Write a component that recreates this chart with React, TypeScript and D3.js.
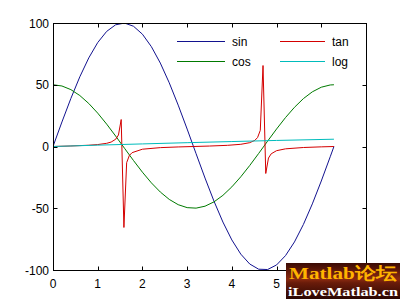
import React from "react";
import * as d3 from "d3";

const xsTrig = [0, 0.2, 0.4, 0.6, 0.8, 1.0, 1.2, 1.4, 1.6, 1.8, 2.0, 2.2, 2.4, 2.6, 2.8, 3.0, 3.2, 3.4, 3.6, 3.8, 4.0, 4.2, 4.4, 4.6, 4.8, 5.0, 5.2, 5.4, 5.6, 5.8, 6.0, 6.2, 6.283];
const sinVals = [0, 19.87, 38.94, 56.46, 71.74, 84.15, 93.2, 98.54, 99.96, 97.38, 90.93, 80.85, 67.55, 51.55, 33.5, 14.11, -5.84, -25.55, -44.25, -61.18, -75.68, -87.16, -95.16, -99.36, -99.62, -95.89, -88.35, -77.28, -63.13, -46.46, -27.94, -8.31, 0];
const cosVals = [50, 49.0, 46.05, 41.27, 34.84, 27.02, 18.12, 8.5, -1.46, -11.36, -20.81, -29.43, -36.87, -42.84, -47.11, -49.5, -49.91, -48.34, -44.84, -39.55, -32.68, -24.51, -15.37, -5.61, 4.38, 14.18, 23.43, 31.73, 38.78, 44.28, 48.01, 49.83, 50];

// tan samples (spikes near pi/2 and 3pi/2)
const xsTan = [0, 0.4, 0.8, 1.0, 1.2, 1.3, 1.403, 1.464, 1.525, 1.586, 1.647, 1.708, 1.769, 2.0, 2.4, 2.8, 3.1416, 3.5, 3.9, 4.2, 4.4, 4.514, 4.575, 4.636, 4.697, 4.758, 4.819, 4.88, 5.0, 5.2, 5.6, 6.0, 6.283];
const tanVals = [0, 0.42, 1.03, 1.56, 2.57, 3.6, 5.9, 9.33, 21.84, -65.57, -13.09, -7.24, -4.98, -2.19, -0.92, -0.36, 0, 0.37, 0.94, 1.78, 3.1, 4.98, 7.24, 13.09, 65.57, -21.84, -9.33, -5.9, -3.38, -1.89, -0.81, -0.29, 0];

// log series
const xsLog = [0, 1, 2, 3, 4, 5, 6.283];
const logVals = [0, 1.1, 2.1, 3.1, 4.0, 4.9, 5.9];

const xTicks = [0, 1, 2, 3, 4, 5, 6, 7];
// labels 6 and 7 are hidden under the watermark in the reference
const xTickLabels = ["0", "1", "2", "3", "4", "5"];
const yTicks = [-100, -50, 0, 50, 100];

const legendLabels = ["sin", "cos", "tan", "log"];
const colors = ["#12128f", "#007a00", "#d40000", "#00bcbc"];

const W = 406;
const H = 305;
const L = 53, R = 366, T = 23, B = 270;

export default function App() {
  const x = d3.scaleLinear().domain([0, 7]).range([L, R]);
  const y = d3.scaleLinear().domain([-100, 100]).range([B, T]);
  const lineGen = d3.line<[number, number]>().x((d) => x(d[0])).y((d) => y(d[1]));
  const zip = (xs: number[], vs: number[]) => xs.map((v, i) => [v, vs[i]] as [number, number]);
  const series = [
    zip(xsTrig, sinVals),
    zip(xsTrig, cosVals),
    zip(xsTan, tanVals),
    zip(xsLog, logVals),
  ];
  const font = "Liberation Sans, Arial, sans-serif";
  const tl = 4;
  const legendPos = [
    { x1: 177, x2: 225, y: 41, tx: 232 },
    { x1: 177, x2: 225, y: 61, tx: 232 },
    { x1: 280, x2: 325, y: 41, tx: 332 },
    { x1: 280, x2: 325, y: 61, tx: 332 },
  ];
  return (
    <div style={{ position: "fixed", left: 0, top: 0 }}>
      <svg width={W} height={H} style={{ display: "block", background: "#fff" }}>
        <defs>
          <clipPath id="plotclip">
            <rect x={L} y={T} width={R - L} height={B - T} />
          </clipPath>
          <linearGradient id="wm" x1="0" y1="0" x2="0" y2="1">
            <stop offset="0" stopColor="#3a0a04" />
            <stop offset="0.45" stopColor="#8a2a10" />
            <stop offset="0.55" stopColor="#6a1c0a" />
            <stop offset="1" stopColor="#2a0602" />
          </linearGradient>
        </defs>
        <rect x={0} y={0} width={W} height={H} fill="#fff" />
        <g clipPath="url(#plotclip)">
          {series.map((s, i) => (
            <path key={i} d={lineGen(s) || ""} fill="none" stroke={colors[i]} strokeWidth={1} />
          ))}
        </g>
        {/* axes box */}
        <rect x={L + 0.5} y={T + 0.5} width={R - L} height={B - T} fill="none" stroke="#000" strokeWidth={1} />
        {xTicks.map((t, i) => {
          const px = Math.round(x(t)) + 0.5;
          return (
            <g key={"x" + t}>
              <line x1={px} x2={px} y1={B + 0.5} y2={B + 0.5 - tl} stroke="#000" />
              <line x1={px} x2={px} y1={T + 0.5} y2={T + 0.5 + tl} stroke="#000" />
              {i < xTickLabels.length && (
                <text x={x(t)} y={288} fontFamily={font} fontSize={12} textAnchor="middle" fill="#000">
                  {xTickLabels[i]}
                </text>
              )}
            </g>
          );
        })}
        {yTicks.map((t) => {
          const py = Math.round(y(t)) + 0.5;
          return (
            <g key={"y" + t}>
              <line x1={L + 0.5} x2={L + 0.5 + tl} y1={py} y2={py} stroke="#000" />
              <line x1={R + 0.5} x2={R + 0.5 - tl} y1={py} y2={py} stroke="#000" />
              <text x={49} y={y(t) + 4.5} fontFamily={font} fontSize={12} textAnchor="end" fill="#000">
                {t}
              </text>
            </g>
          );
        })}
        {/* legend */}
        {legendLabels.map((lab, i) => {
          const p = legendPos[i];
          return (
            <g key={lab}>
              <line x1={p.x1} x2={p.x2} y1={p.y + 0.5} y2={p.y + 0.5} stroke={colors[i]} strokeWidth={1} />
              <text x={p.tx} y={p.y + 4.5} fontFamily={font} fontSize={12} fill="#000">
                {lab}
              </text>
            </g>
          );
        })}
        {/* watermark */}
        <rect x={286} y={263} width={114} height={36} fill="url(#wm)" />
        <text x={289} y={279} fontFamily="Liberation Serif, DejaVu Serif, serif" fontWeight="bold" fontSize={17} fill="#ffb400" textLength={108} lengthAdjust="spacingAndGlyphs">
          Matlab论坛
        </text>
        <text x={288} y={296} fontFamily="Liberation Serif, DejaVu Serif, serif" fontWeight="bold" fontSize={13} fill="#ffffff" textLength={110} lengthAdjust="spacingAndGlyphs">
          iLoveMatlab.cn
        </text>
      </svg>
    </div>
  );
}
